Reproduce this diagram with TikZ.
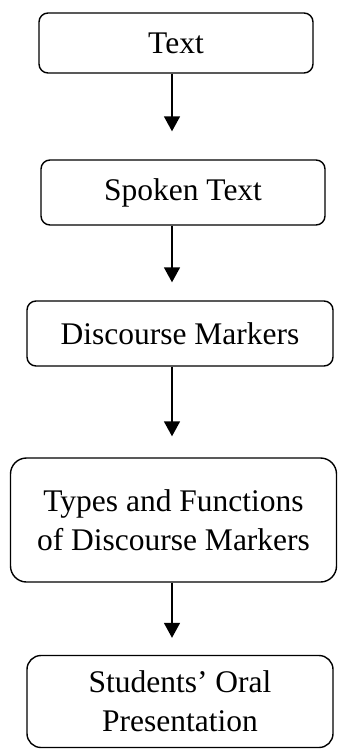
\documentclass[tikz,border=0pt]{standalone}
\usepackage{fontspec}
\setmainfont{Liberation Serif}
\usetikzlibrary{arrows.meta}

\begin{document}
\begin{tikzpicture}[x=1pt, y=-1pt,
        box/.style={draw, line width=1.4pt, rounded corners=9pt, align=center, inner sep=0pt,
            font=\fontsize{31.5}{39}\selectfont},
        flow/.style={line width=1.6pt, -{Triangle[width=16pt,length=15pt]}}]
            \useasboundingbox (0,0) rectangle (338,749);
            \coordinate (axis) at (172,0);

            \node[box, minimum width=274pt, minimum height=60pt] (txt) at (176,43) {Text};
            \node[box, minimum width=284pt, minimum height=65pt] (spk) at (183,192.5) {Spoken Text};
            \node[box, minimum width=306pt, minimum height=65pt] (dm) at (180,333.5) {Discourse Markers};
            \node[box, rounded corners=16pt, minimum width=326pt, minimum height=124pt] (tf) at (173.5,520)
                {Types and Functions\\of Discourse Markers};
            \node[box, rounded corners=14pt, minimum width=306pt, minimum height=92pt] (sop) at (180,701.5)
                {Students’ Oral\\Presentation};

            \draw[flow, shorten >=28pt] (txt.south -| axis) -- (spk.north -| axis);
            \draw[flow, shorten >=18pt] (spk.south -| axis) -- (dm.north -| axis);
            \draw[flow, shorten >=21pt] (dm.south -| axis) -- (tf.north -| axis);
            \draw[flow, shorten >=17pt] (tf.south -| axis) -- (sop.north -| axis);
        \end{tikzpicture}
\end{document}
